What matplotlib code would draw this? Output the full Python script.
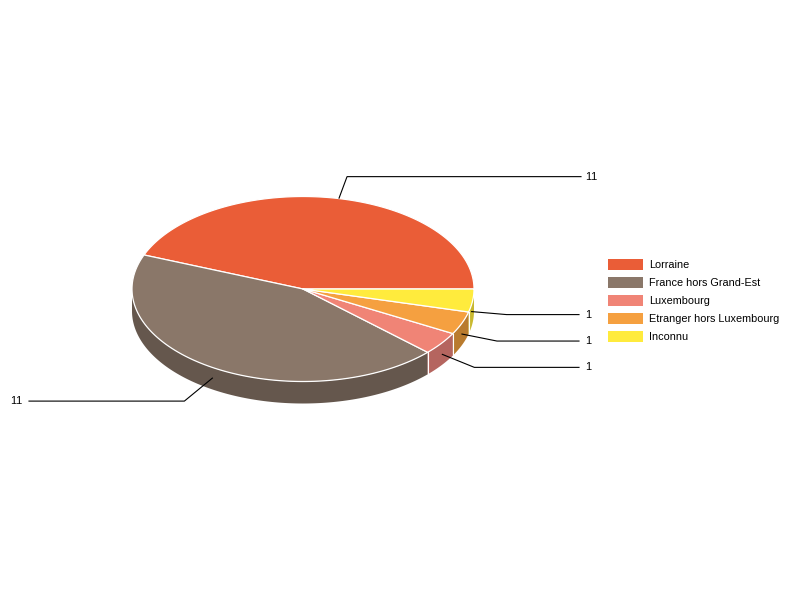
import numpy as np
import matplotlib
matplotlib.use('Agg')
import matplotlib.pyplot as plt
from matplotlib.patches import Polygon, Rectangle

plt.rcParams['font.family'] = ['Liberation Sans', 'DejaVu Sans']
plt.rcParams['text.kerning_factor'] = 6

categories = ['Lorraine', 'France hors Grand-Est', 'Luxembourg', 'Etranger hors Luxembourg', 'Inconnu']
values = [11, 11, 1, 1, 1]
top_colors = ['#EA5D37', '#8A7769', '#F08476', '#F5A040', '#FFEB3D']
side_colors = ['#A4412A', '#65574D', '#B5655F', '#B97B2E', '#C9B92F']

# pie geometry in pixels
cx, cy = 303, 289
rx, ry = 171, 92.5
depth = 22


def ell(deg, dy=0):
    a = np.radians(deg)
    return cx + rx * np.cos(a), cy - ry * np.sin(a) + dy


fig = plt.figure(figsize=(8, 6), dpi=100)
ax = fig.add_axes([0, 0, 1, 1])
ax.set_xlim(0, 800)
ax.set_ylim(600, 0)
ax.axis('off')

fractions = np.array(values) / sum(values)
edges = np.concatenate([[0], np.cumsum(fractions) * 360])

# side walls, only the front half shows
for i in range(len(values)):
    a0 = max(edges[i], 180)
    a1 = edges[i + 1]
    if a1 <= a0:
        continue
    t = np.linspace(a0, a1, 120)
    xs, ys = ell(t)
    xb, yb = ell(t[::-1], depth)
    pts = np.column_stack([np.r_[xs, xb], np.r_[ys, yb]])
    ax.add_patch(Polygon(pts, closed=True, fc=side_colors[i], ec='none', zorder=1))
    # white seam at the right end of the wall
    if a1 < 360:
        x1, y1 = ell(a1)
        ax.plot([x1, x1], [y1, y1 + depth], color='white', lw=0.8, zorder=2)

# top faces
for i in range(len(values)):
    t = np.linspace(edges[i], edges[i + 1], 200)
    xs, ys = ell(t)
    pts = np.column_stack([np.r_[cx, xs], np.r_[cy, ys]])
    ax.add_patch(Polygon(pts, closed=True, fc=top_colors[i], ec='white', lw=0.9,
                         joinstyle='round', zorder=3))

# leader lines: elbow offset from the anchor, then run to the label
anchor_dx = [4, 1, 1, 0, -1]
elbow_dx = [8, -28, 32, 35, 35]
elbow_dy = [-21.5, 23, 13, 7, 3]
line_end = [581, 29, 579, 579, 579]
label_x = [585, 22, 585, 585, 585]

for i in range(len(values)):
    mid = (edges[i] + edges[i + 1]) / 2
    on_front = np.sin(np.radians(mid)) < 0
    x0, y0 = ell(mid, depth / 2 if on_front else 0)
    x0 += anchor_dx[i]
    x1, y1 = x0 + elbow_dx[i], y0 + elbow_dy[i]
    ax.plot([x0, x1, line_end[i]], [y0, y1, y1], color='black', lw=0.8, zorder=4)
    ha = 'left' if label_x[i] > cx else 'right'
    ax.text(label_x[i], y1, str(values[i]), ha=ha, va='center', fontsize=7.9, color='black')

# legend
for i, name in enumerate(categories):
    y = 258.5 + 18 * i
    ax.add_patch(Rectangle((608, y), 35, 11, fc=top_colors[i], ec='none', zorder=3))
    ax.text(649, y + 6, name, ha='left', va='center', fontsize=7.85, color='black')

fig.savefig('out.png', dpi=100, facecolor='white')
